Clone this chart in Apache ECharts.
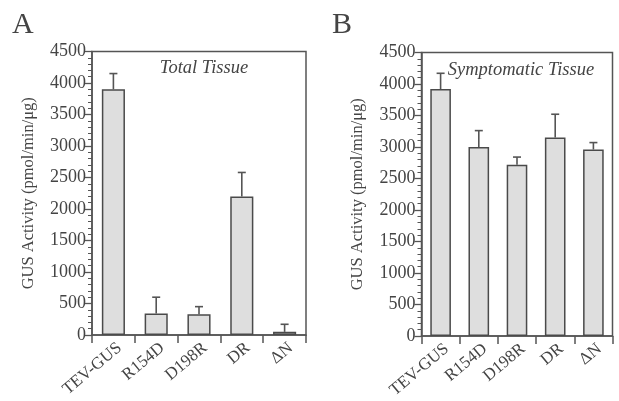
<!DOCTYPE html>
<html><head><meta charset="utf-8">
<script src="https://cdn.jsdelivr.net/npm/echarts@6/dist/echarts.min.js"></script>
<style>html,body{margin:0;padding:0;background:#fff}#c{width:619px;height:401px}</style>
</head><body><div id="c"></div>
<script>
const categories = ['TEV-GUS', 'R154D', 'D198R', 'DR', '\u0394N'];
const totalMean = [3900, 340, 330, 2200, 50];
const totalUpper = [4150, 600, 450, 2580, 170];
const sympMean = [3920, 3000, 2720, 3150, 2960];
const sympUpper = [4170, 3260, 2840, 3520, 3070];
const yTicks = [0, 500, 1000, 1500, 2000, 2500, 3000, 3500, 4000, 4500];

const FONT = '"Liberation Serif", "DejaVu Serif", serif';
const AX = '#555';
const TXT = '#444';

function errSeries(idx, upper, mean) {
  return {
    type: 'custom', xAxisIndex: idx, yAxisIndex: idx, z: 1,
    data: categories.map((c, i) => [i, mean[i], upper[i]]),
    renderItem: function (params, api) {
      const p0 = api.coord([api.value(0), api.value(1)]);
      const p1 = api.coord([api.value(0), api.value(2)]);
      const hw = 4;
      return { type: 'group', children: [
        { type: 'line', shape: { x1: p0[0], y1: p0[1], x2: p1[0], y2: p1[1] }, style: { stroke: AX, lineWidth: 1.6 } },
        { type: 'line', shape: { x1: p1[0] - hw, y1: p1[1], x2: p1[0] + hw, y2: p1[1] }, style: { stroke: AX, lineWidth: 1.6 } }
      ]};
    }
  };
}

function xAx(idx) {
  return {
    type: 'category', gridIndex: idx, data: categories,
    axisLine: { lineStyle: { color: AX, width: 1.5 } },
    axisTick: { show: true, length: 8, lineStyle: { color: AX, width: 1.5 } },
    axisLabel: { rotate: 40, margin: 16, padding: [0, -8, 0, 0], fontFamily: FONT, fontSize: 17, color: TXT, interval: 0 }
  };
}
function yAx(idx) {
  return {
    type: 'value', gridIndex: idx, min: 0, max: 4500, interval: 500,
    name: 'GUS Activity (pmol/min/\u03bcg)', nameLocation: 'middle', nameGap: 55,
    nameTextStyle: { fontFamily: FONT, fontSize: 16.5, color: TXT },
    axisLine: { show: true, lineStyle: { color: AX, width: 1.5 } },
    axisTick: { show: true, length: 7, lineStyle: { color: AX, width: 1.3 } },
    minorTick: { show: true, splitNumber: 5, length: 4, lineStyle: { color: AX, width: 1 } },
    splitLine: { show: false },
    axisLabel: { margin: 6, fontFamily: FONT, fontSize: 18, color: TXT,
      formatter: v => yTicks.includes(v) ? String(v) : '' }
  };
}
function barSeries(idx, mean) {
  return {
    type: 'bar', xAxisIndex: idx, yAxisIndex: idx, data: mean, barWidth: '54%', z: 2,
    itemStyle: { color: '#dedede', borderColor: '#4a4a4a', borderWidth: 1.5 }
  };
}

const chart = echarts.init(document.getElementById('c'), null, { renderer: 'canvas' });
chart.setOption({
  backgroundColor: '#fff',
  animation: false,
  grid: [
    { left: 92, top: 51.5, width: 214, height: 283.5, show: true, borderColor: AX, borderWidth: 1.5 },
    { left: 421.5, top: 52.5, width: 191, height: 284.5, show: true, borderColor: AX, borderWidth: 1.5 }
  ],
  xAxis: [xAx(0), xAx(1)],
  yAxis: [yAx(0), yAx(1)],
  graphic: [
    { type: 'text', left: 12, top: 10, style: { text: 'A', font: '30px ' + FONT, fill: TXT } },
    { type: 'text', left: 332, top: 10, style: { text: 'B', font: '30px ' + FONT, fill: TXT } },
    { type: 'text', x: 204, y: 68, style: { text: 'Total Tissue', font: 'italic 18.5px ' + FONT, fill: TXT, textAlign: 'center', textVerticalAlign: 'middle' } },
    { type: 'text', x: 521, y: 70, style: { text: 'Symptomatic Tissue', font: 'italic 18.5px ' + FONT, fill: TXT, textAlign: 'center', textVerticalAlign: 'middle' } }
  ],
  series: [
    errSeries(0, totalUpper, totalMean), barSeries(0, totalMean),
    errSeries(1, sympUpper, sympMean), barSeries(1, sympMean)
  ]
});
</script></body></html>
